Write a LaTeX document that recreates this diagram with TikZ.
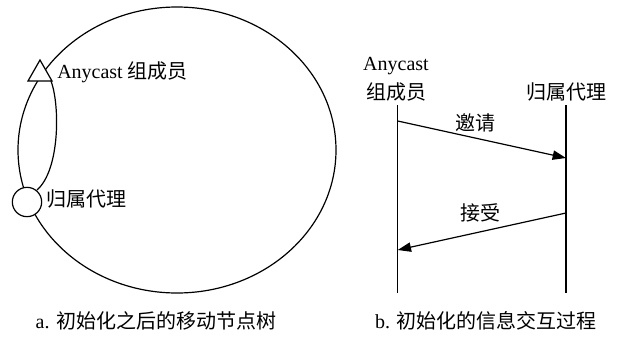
\documentclass[tikz,border=0pt]{standalone}
\usepackage{fontspec}
\setmainfont{Liberation Serif}
\newfontfamily\cjk{Noto Sans CJK SC}
\usetikzlibrary{arrows.meta}
\tikzset{
  line/.style={line width=0.9pt, black},
  lbl/.style={inner sep=0pt, font=\fontsize{15}{18}\selectfont},
  msg/.style={line, -{Triangle[length=10pt,width=7pt]}},
}
\begin{document}
\begin{tikzpicture}[x=0.75pt,y=-0.75pt]
\useasboundingbox (0,0) rectangle (617,336);
% ---- panel a ----
\coordinate (ec) at (177,150);
\draw[line] (ec) ellipse [x radius=159, y radius=143];
\coordinate (tA) at (40,60);
\coordinate (tB) at (28,81);
\coordinate (tC) at (52,81);
\node[line, draw, fill=white, circle, minimum size=22pt, inner sep=0pt] (home) at (27,202) {};
\coordinate (lensS) at (51,81);
\coordinate (lensE) at (37,190);
\draw[line] (lensS) .. controls (60,105) and (60,170) .. (lensE);
\draw[line, fill=white] (tA) -- (tB) -- (tC) -- cycle;
\node[lbl, anchor=west] (anyA) at (57,72) {Anycast {\cjk 组成员}};
\node[lbl, anchor=west] (homeA) at (46,199) {\cjk 归属代理};
\node[lbl] (capA) at (156,321) {a. {\cjk 初始化之后的移动节点树}};
% ---- panel b ----
\node[lbl] (anyB1) at (396,66) {Anycast};
\node[lbl] (anyB2) at (396,92) {\cjk 组成员};
\node[lbl] (homeB) at (566,92) {\cjk 归属代理};
\coordinate (L1) at (397.7,105);
\coordinate (L2) at (397.7,293);
\coordinate (R1) at (566,105);
\coordinate (R2) at (566,293);
\draw[line] (L1) -- (L2);
\draw[line] (R1) -- (R2);
\coordinate (m1s) at (397.7,121);
\coordinate (m1e) at (566,158);
\coordinate (m2s) at (566,213);
\coordinate (m2e) at (397.7,250);
\draw[msg] (m1s) -- (m1e);
\draw[msg] (m2s) -- (m2e);
\node[lbl] (inv) at (475,123) {\cjk 邀请};
\node[lbl] (acc) at (480,213) {\cjk 接受};
\node[lbl] (capB) at (486,321) {b. {\cjk 初始化的信息交互过程}};
\end{tikzpicture}
\end{document}
